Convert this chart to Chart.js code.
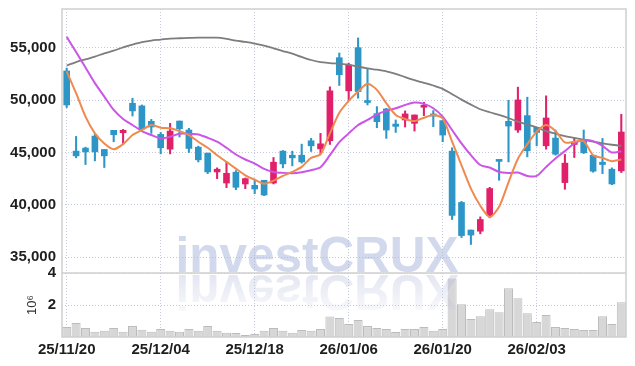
<!DOCTYPE html>
<html>
<head>
<meta charset="utf-8">
<script src="https://cdn.jsdelivr.net/npm/chart.js@4.4.1/dist/chart.umd.min.js"></script>
<style>
  html, body { margin: 0; padding: 0; background: #fff; }
  #wrap { width: 635px; height: 366px; }
</style>
</head>
<body>
<div id="wrap"><canvas id="chart" width="635" height="366"></canvas></div>
<script>
// trading days, yy/mm/dd
const dates = [
  '25/11/20','25/11/21','25/11/24','25/11/25','25/11/26','25/11/27','25/11/28','25/12/01','25/12/02','25/12/03',
  '25/12/04','25/12/05','25/12/08','25/12/09','25/12/10','25/12/11','25/12/12','25/12/15','25/12/16','25/12/17',
  '25/12/18','25/12/19','25/12/22','25/12/23','25/12/24','25/12/26','25/12/29','25/12/30','26/01/02','26/01/05',
  '26/01/06','26/01/07','26/01/08','26/01/09','26/01/12','26/01/13','26/01/14','26/01/15','26/01/16','26/01/19',
  '26/01/20','26/01/21','26/01/22','26/01/23','26/01/26','26/01/27','26/01/28','26/01/29','26/01/30','26/02/02',
  '26/02/03','26/02/04','26/02/05','26/02/06','26/02/09','26/02/10','26/02/11','26/02/12','26/02/13','26/02/19'
];

const openP = [
  52800,45130,45420,46570,45290,47120,46890,49710,49460,47980,
  46730,45320,48010,47150,45510,44940,43140,42080,43110,41990,
  41860,42340,42080,45130,44740,44740,46120,45350,46120,54070,
  50900,55030,49850,48720,49170,47720,48110,47790,49330,48690,
  48050,45130,40220,37580,37470,38970,44230,47980,47150,48530,
  47400,45640,46380,42120,45770,46190,44740,44070,43400,43240
];
const highP = [
  53080,46540,45510,46800,45290,47120,47210,50190,49550,48170,
  46920,47790,48010,47310,45610,44940,43530,44100,43270,42560,
  42440,42340,44520,45190,45130,45800,46350,46830,51280,54520,
  53560,55960,53000,49390,49230,48110,48980,48590,49810,49010,
  48050,45450,40320,37580,38840,41670,44230,50000,51250,50290,
  47400,50420,47150,44810,46350,47150,44740,46350,43530,48650
];
const lowP = [
  49300,44490,43850,44200,43560,46030,45800,48490,47240,46830,
  44870,44870,46480,45000,44100,42980,42500,41640,41440,41540,
  41060,40870,41990,43530,43720,43980,45100,44870,45770,51410,
  50000,50190,49550,47370,46350,46920,47440,47050,48530,47470,
  46030,38590,36860,36200,37220,38750,42340,44100,46920,44580,
  45640,45320,44740,41480,44520,44900,43110,42980,41920,43080
];
const closeP = [
  49550,44680,45060,45060,44680,46700,47120,48980,47240,47440,
  45450,47050,47280,45390,44300,43140,43400,43010,41670,42500,
  41510,40930,44070,43910,44490,44100,45640,45830,50900,52440,
  53370,50830,49780,47950,47150,47500,48690,48590,49490,48490,
  46670,38980,37050,37100,38590,41550,44150,47530,50030,45160,
  46920,48300,44840,43980,45990,44970,43210,43850,41990,46960
];

// moving averages
const ma5 = [
  52760,50670,48430,46830,45870,45320,45800,46670,47150,47630,
  47370,47310,47050,46670,46030,45450,44740,44100,43460,42820,
  42400,42020,42310,42760,43140,43620,44490,44810,46830,48800,
  49940,50830,51570,50990,49710,48590,48210,48010,48330,48590,
  48270,46030,43780,41540,39900,38830,39800,42150,44400,45800,
  47000,47630,47050,45960,46030,46090,44740,44490,44170,44330
];
const ma20 = [
  56060,54620,53140,51640,50350,49070,48210,47630,47050,46670,
  46350,46510,46800,46800,46730,46410,46030,45450,44810,44330,
  43940,43430,43140,43050,43010,43110,43300,43590,44740,46000,
  46830,47630,48110,48650,48980,49230,49550,49780,49650,49230,
  48430,47150,45870,44740,43800,43560,43140,43050,43080,42760,
  42760,43620,44420,45130,45870,46190,46090,45640,45000,45130
];
const ma60 = [
  53330,53650,53910,54170,54490,54740,55060,55320,55550,55710,
  55800,55900,55930,55960,55990,55990,55990,55870,55710,55580,
  55420,55220,54970,54710,54460,54140,53850,53650,53560,53490,
  53400,53210,53050,52920,52760,52530,52210,51920,51670,51410,
  51090,50580,50060,49580,49140,48850,48590,48300,47950,47690,
  47400,47050,46800,46570,46410,46220,46030,45870,45740,45640
];

// volume in millions of shares
const volumeM = [
  0.62,0.87,0.56,0.33,0.39,0.56,0.33,0.68,0.45,0.33,
  0.50,0.39,0.33,0.50,0.39,0.68,0.39,0.27,0.25,0.12,
  0.19,0.39,0.56,0.39,0.27,0.43,0.39,0.50,1.28,1.18,
  0.81,1.06,0.68,0.56,0.50,0.31,0.50,0.50,0.62,0.39,
  0.50,3.66,2.05,1.12,1.30,1.74,1.55,3.04,2.42,1.49,
  0.93,1.37,0.62,0.56,0.50,0.43,0.43,1.30,0.81,2.17
];

const priceTicks = [35000, 40000, 45000, 50000, 55000];
const volumeTicks = [2, 4];

const UP = '#e1206a';
const DOWN = '#2d96c7';
const GRID = '#c6cadf';
const FONT = '"Liberation Sans Narrow", "Liberation Sans", sans-serif';

const candleColor = openP.map((o, i) => closeP[i] >= o ? UP : DOWN);
const wicks = lowP.map((l, i) => [l, highP[i]]);
const bodies = openP.map((o, i) => [Math.min(o, closeP[i]), Math.max(o, closeP[i])]);

// frame, panel separator and the watermark
const decor = {
  id: 'decor',
  afterDatasetsDraw(chart) {
    const ctx = chart.ctx;
    const a = chart.chartArea;
    const top = chart.scales.y.top;
    const bottom = chart.scales.yv.bottom;
    const sepY = chart.scales.yv.top;
    ctx.save();
    ctx.beginPath();
    ctx.rect(a.left, top, a.right - a.left, bottom - top);
    ctx.clip();
    const cx = (a.left + a.right) / 2 - 27;
    const baseY = sepY - 1;
    ctx.font = 'bold 50px "Liberation Sans", sans-serif';
    ctx.textAlign = 'center';
    ctx.textBaseline = 'alphabetic';
    ctx.fillStyle = 'rgba(168,180,218,0.5)';
    ctx.fillText('investCRUX', cx, baseY, 283);
    // mirrored reflection
    ctx.translate(0, 2 * baseY + 3);
    ctx.scale(1, -1);
    const g = ctx.createLinearGradient(0, baseY, 0, baseY - 42);
    g.addColorStop(0, 'rgba(170,180,215,0.32)');
    g.addColorStop(1, 'rgba(170,180,215,0.05)');
    ctx.fillStyle = g;
    ctx.fillText('investCRUX', cx, baseY, 283);
    ctx.restore();

    ctx.save();
    ctx.strokeStyle = '#cfcfcf';
    ctx.lineWidth = 1.5;
    ctx.strokeRect(a.left, top, a.right - a.left, bottom - top);
    ctx.beginPath();
    ctx.moveTo(a.left, sepY);
    ctx.lineTo(a.right, sepY);
    ctx.stroke();
    ctx.restore();
  }
};

const noPad = (s) => { s.width = 62; s.paddingTop = 0; s.paddingBottom = 0; };

const chart = new Chart(document.getElementById('chart').getContext('2d'), {
  type: 'bar',
  data: {
    labels: dates,
    datasets: [
      {
        type: 'line', label: 'MA5', data: ma5, yAxisID: 'y',
        borderColor: '#ef8a4e', borderWidth: 2, pointRadius: 0, tension: 0.25, order: 1
      },
      {
        type: 'line', label: 'MA20', data: ma20, yAxisID: 'y',
        borderColor: '#cb55e6', borderWidth: 2, pointRadius: 0, tension: 0.25, order: 1
      },
      {
        type: 'line', label: 'MA60', data: ma60, yAxisID: 'y',
        borderColor: '#7d7d7d', borderWidth: 1.8, pointRadius: 0, tension: 0.3, order: 1
      },
      {
        label: 'body', data: bodies, yAxisID: 'y', grouped: false,
        backgroundColor: candleColor, barThickness: 6, minBarLength: 2, order: 2
      },
      {
        label: 'wick', data: wicks, yAxisID: 'y', grouped: false,
        backgroundColor: candleColor, barThickness: 1.4, order: 3
      },
      {
        label: 'volume', data: volumeM, yAxisID: 'yv', grouped: false,
        backgroundColor: '#d7d7d7', borderColor: '#bcbcbc', borderWidth: 1,
        categoryPercentage: 1, barPercentage: 0.96, order: 4
      }
    ]
  },
  options: {
    responsive: false,
    animation: false,
    layout: { padding: { top: 9, right: 9, left: 0, bottom: 0 } },
    plugins: { legend: { display: false }, tooltip: { enabled: false } },
    scales: {
      x: {
        offset: true,
        grid: {
          offset: false,
          drawTicks: false,
          color: (c) => (c.index % 10 === 0 ? GRID : 'rgba(0,0,0,0)')
        },
        border: { display: false, dash: [1, 2] },
        ticks: {
          autoSkip: false, maxRotation: 0, padding: 4,
          color: '#1e1e1e', font: { family: FONT, size: 15, weight: 'bold' },
          callback: (v, i) => (i % 10 === 0 ? dates[i] : '')
        },
        afterFit: (s) => { s.height = 29; s.paddingLeft = 0; s.paddingRight = 0; }
      },
      yv: {
        position: 'left', stack: 'panels', stackWeight: 64,
        min: 0, max: 4,
        grid: { drawTicks: false, color: GRID },
        border: { display: false, dash: [1, 2] },
        afterBuildTicks: (s) => { s.ticks = volumeTicks.map(v => ({ value: v })); },
        ticks: { padding: 6, color: '#1e1e1e', font: { family: FONT, size: 15, weight: 'bold' } },
        title: {
          display: true, text: '10\u2076', color: '#333',
          font: { family: FONT, size: 13 }, padding: { top: 25, bottom: 0 }
        },
        afterFit: noPad
      },
      y: {
        position: 'left', stack: 'panels', stackWeight: 264,
        min: 33470, max: 58730,
        grid: { drawTicks: false, color: GRID },
        border: { display: false, dash: [1, 2] },
        afterBuildTicks: (s) => { s.ticks = priceTicks.map(v => ({ value: v })); },
        ticks: {
          padding: 6, color: '#1e1e1e', font: { family: FONT, size: 15, weight: 'bold' },
          callback: (v) => v.toLocaleString('en-US')
        },
        afterFit: noPad
      }
    }
  },
  plugins: [decor]
});
</script>
</body>
</html>
